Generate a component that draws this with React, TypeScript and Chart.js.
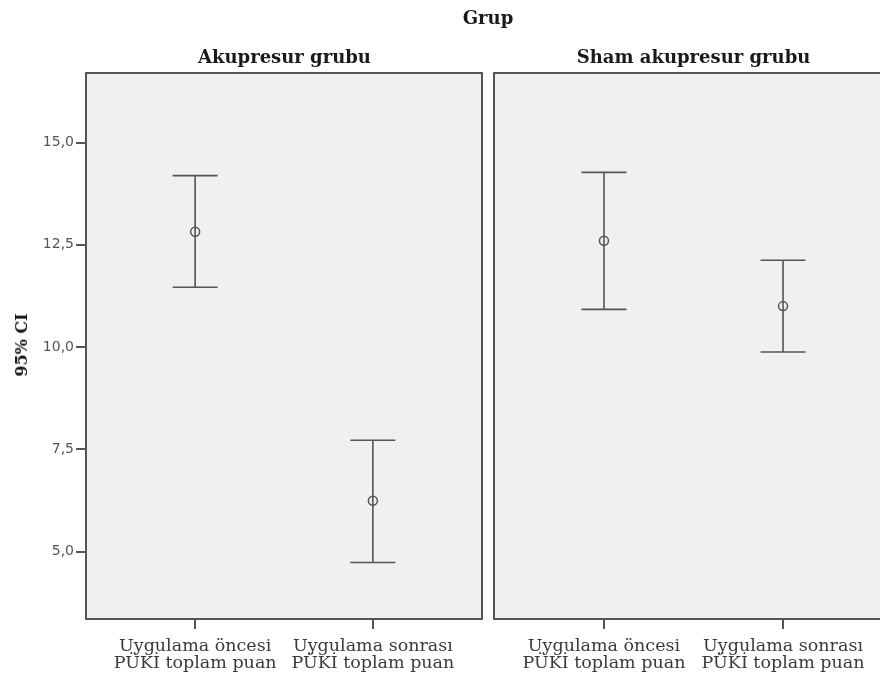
import React, { useEffect, useRef } from "react";
import { Chart, registerables } from "chart.js";

Chart.register(...registerables);

// ---- data ----
const CATEGORIES: string[][] = [
  ["Uygulama öncesi", "PÜKİ toplam puan"],
  ["Uygulama sonrası", "PÜKİ toplam puan"],
];
const CATEGORY_POS = [0, 1];
const Y_TICKS = [5, 7.5, 10, 12.5, 15];

const AKU_MEAN = [12.82, 6.24];
const AKU_LOW = [11.46, 4.73];
const AKU_HIGH = [14.19, 7.72];

const SHAM_MEAN = [12.6, 11.0];
const SHAM_LOW = [10.92, 9.88];
const SHAM_HIGH = [14.27, 12.12];

const GROUP_TITLE = "Grup";
const PANEL_TITLES = ["Akupresur grubu", "Sham akupresur grubu"];
const Y_TITLE = "95% CI";

// ---- style ----
const Y_MIN = 3.35;
const Y_MAX = 16.7;
const X_MIN = -0.614;
const X_MAX = 1.614;
const LINE = "#555555";
const TEXT = "#3a3a3a";

const panelPlugin = {
  id: "panelFrame",
  beforeDraw(chart: any) {
    const { ctx, chartArea: a } = chart;
    ctx.save();
    ctx.fillStyle = "#f0f0f0";
    ctx.fillRect(a.left, a.top, a.right - a.left, a.bottom - a.top);
    ctx.restore();
  },
  afterDatasetsDraw(chart: any) {
    const { ctx, scales } = chart;
    const xs = scales.x;
    const ys = scales.y;
    ctx.save();
    ctx.strokeStyle = LINE;
    ctx.lineWidth = 1.6;
    chart.data.datasets.forEach((ds: any) => {
      ds.data.forEach((p: any) => {
        const x = xs.getPixelForValue(p.x);
        const yl = ys.getPixelForValue(p.low);
        const yh = ys.getPixelForValue(p.high);
        ctx.beginPath();
        ctx.moveTo(x, yh);
        ctx.lineTo(x, yl);
        ctx.moveTo(x - 22.5, yh);
        ctx.lineTo(x + 22.5, yh);
        ctx.moveTo(x - 22.5, yl);
        ctx.lineTo(x + 22.5, yl);
        ctx.stroke();
      });
    });
    ctx.restore();
  },
  afterDraw(chart: any) {
    const { ctx, chartArea: a } = chart;
    ctx.save();
    ctx.strokeStyle = LINE;
    ctx.lineWidth = 2;
    ctx.strokeRect(a.left, a.top, a.right - a.left, a.bottom - a.top);
    ctx.restore();
  },
};

function makeConfig(mean: number[], low: number[], high: number[], showY: boolean, padRight: number, padLeft: number) {
  const data = CATEGORY_POS.map((x, i) => ({ x, y: mean[i], low: low[i], high: high[i] }));
  return {
    type: "scatter" as const,
    data: {
      datasets: [
        {
          data,
          pointStyle: "circle",
          pointRadius: 4.5,
          pointHoverRadius: 4.5,
          borderColor: LINE,
          backgroundColor: "rgba(0,0,0,0)",
          borderWidth: 1.5,
        },
      ],
    },
    options: {
      animation: false,
      responsive: false,
      events: [],
      layout: { padding: { top: 73, left: padLeft, right: padRight, bottom: 0 } },
      plugins: { legend: { display: false }, tooltip: { enabled: false }, title: { display: false } },
      scales: {
        x: {
          type: "linear",
          min: X_MIN,
          max: X_MAX,
          afterBuildTicks: (s: any) => {
            s.ticks = CATEGORY_POS.map((v) => ({ value: v }));
          },
          afterFit: (s: any) => {
            s.height = 57;
          },
          ticks: {
            autoSkip: false,
            maxRotation: 0,
            padding: 9,
            color: TEXT,
            font: { family: "DejaVu Serif", size: 17.5, lineHeight: 0.98 },
            callback: (v: number) => CATEGORIES[CATEGORY_POS.indexOf(v)] ?? "",
          },
          grid: { drawOnChartArea: false, drawTicks: true, tickLength: 10, color: LINE, lineWidth: 2 },
          border: { display: false },
        },
        y: {
          type: "linear",
          display: showY,
          min: Y_MIN,
          max: Y_MAX,
          afterBuildTicks: (s: any) => {
            s.ticks = Y_TICKS.map((v) => ({ value: v }));
          },
          afterFit: (s: any) => {
            s.width = showY ? 86 : 0;
          },
          ticks: {
            padding: 2,
            color: "#555555",
            font: { family: "DejaVu Sans", size: 14 },
            callback: (v: number) => v.toFixed(1).replace(".", ","),
          },
          grid: { drawOnChartArea: false, drawTicks: true, tickLength: 10, color: LINE, lineWidth: 2 },
          border: { display: false },
        },
      },
    },
    plugins: [panelPlugin],
  };
}

function Panel(props: { left: number; width: number; cfg: any }) {
  const ref = useRef<HTMLCanvasElement | null>(null);
  useEffect(() => {
    if (!ref.current) return;
    const c = new Chart(ref.current, props.cfg);
    return () => c.destroy();
  }, []);
  return (
    <canvas
      ref={ref}
      width={props.width}
      height={676}
      style={{ position: "absolute", left: props.left, top: 0, width: props.width, height: 676 }}
    />
  );
}

const titleStyle: React.CSSProperties = {
  position: "absolute",
  fontFamily: "DejaVu Serif",
  fontWeight: "bold",
  fontSize: 18,
  color: "#1a1a1a",
  lineHeight: "20px",
  whiteSpace: "nowrap",
  transform: "translateX(-50%)",
};

export default function App() {
  const cfgA = makeConfig(AKU_MEAN, AKU_LOW, AKU_HIGH, true, 5, 0);
  const cfgB = makeConfig(SHAM_MEAN, SHAM_LOW, SHAM_HIGH, false, 15, 6);
  return (
    <div
      style={{
        position: "absolute",
        left: 0,
        top: 0,
        width: 880,
        height: 676,
        overflow: "hidden",
        background: "#ffffff",
      }}
    >
      <Panel left={0} width={488} cfg={cfgA} />
      <Panel left={488} width={420} cfg={cfgB} />
      <div style={{ ...titleStyle, left: 488, top: 8 }}>{GROUP_TITLE}</div>
      <div style={{ ...titleStyle, left: 284.5, top: 47 }}>{PANEL_TITLES[0]}</div>
      <div style={{ ...titleStyle, left: 693.5, top: 47 }}>{PANEL_TITLES[1]}</div>
      <div
        style={{
          ...titleStyle,
          fontSize: 16,
          left: 22,
          top: 335,
          transform: "translateX(-50%) rotate(-90deg)",
        }}
      >
        {Y_TITLE}
      </div>
    </div>
  );
}
